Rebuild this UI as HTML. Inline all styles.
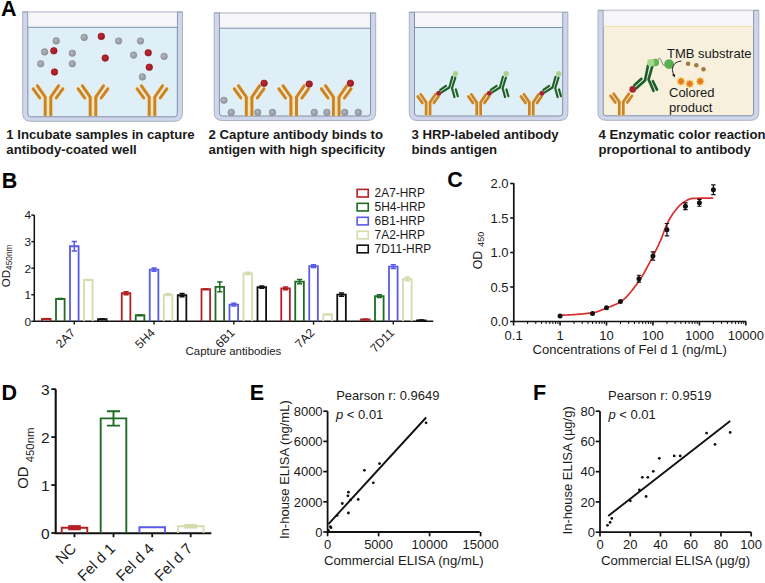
<!DOCTYPE html>
<html><head><meta charset="utf-8"><style>
html,body{margin:0;padding:0;background:#fff;}
svg{display:block;font-family:"Liberation Sans", sans-serif;}
</style></head><body>
<svg width="765" height="583" viewBox="0 0 765 583">
<defs>
<radialGradient id="gg" cx="0.42" cy="0.4" r="0.6"><stop offset="0" stop-color="#b3b7bb"/><stop offset="1" stop-color="#8f949a"/></radialGradient>
<radialGradient id="rg" cx="0.42" cy="0.4" r="0.6"><stop offset="0" stop-color="#c32833"/><stop offset="1" stop-color="#951a24"/></radialGradient>
</defs>
<rect width="765" height="583" fill="#fff"/>
<path d="M22.7,11.8 L22.7,113.3 Q22.7,121.3 30.7,121.3 L174.5,121.3 Q182.5,121.3 182.5,113.3 L182.5,11.8 Z" fill="#cfd6ea" stroke="#9ba3b6" stroke-width="0.8"/>
<path d="M27.9,11.8 L27.9,113.8 Q27.9,116.8 30.9,116.8 L174.3,116.8 Q177.3,116.8 177.3,113.8 L177.3,11.8" fill="#dfeff8" stroke="#8290aa" stroke-width="1"/>
<rect x="28.4" y="11.8" width="148.4" height="15.5" fill="#f6f6f9"/>
<line x1="28.4" y1="12.200000000000001" x2="176.8" y2="12.200000000000001" stroke="#c4c6ce" stroke-width="0.9"/>
<line x1="27.9" y1="27.3" x2="177.3" y2="27.3" stroke="#7d90ac" stroke-width="1"/>
<line x1="22.7" y1="12.100000000000001" x2="27.9" y2="12.100000000000001" stroke="#9aa3bb" stroke-width="0.9"/>
<line x1="177.3" y1="12.100000000000001" x2="182.5" y2="12.100000000000001" stroke="#9aa3bb" stroke-width="0.9"/>
<path d="M214.2,12.8 L214.2,112.5 Q214.2,120.5 222.2,120.5 L367.7,120.5 Q375.7,120.5 375.7,112.5 L375.7,12.8 Z" fill="#cfd6ea" stroke="#9ba3b6" stroke-width="0.8"/>
<path d="M219.39999999999998,12.8 L219.39999999999998,113.0 Q219.39999999999998,116.0 222.39999999999998,116.0 L367.5,116.0 Q370.5,116.0 370.5,113.0 L370.5,12.8" fill="#dfeff8" stroke="#8290aa" stroke-width="1"/>
<rect x="219.89999999999998" y="12.8" width="150.10000000000002" height="15.399999999999999" fill="#f6f6f9"/>
<line x1="219.89999999999998" y1="13.200000000000001" x2="370.0" y2="13.200000000000001" stroke="#c4c6ce" stroke-width="0.9"/>
<line x1="219.39999999999998" y1="28.2" x2="370.5" y2="28.2" stroke="#7d90ac" stroke-width="1"/>
<line x1="214.2" y1="13.100000000000001" x2="219.39999999999998" y2="13.100000000000001" stroke="#9aa3bb" stroke-width="0.9"/>
<line x1="370.5" y1="13.100000000000001" x2="375.7" y2="13.100000000000001" stroke="#9aa3bb" stroke-width="0.9"/>
<path d="M409.3,12.1 L409.3,112.5 Q409.3,120.5 417.3,120.5 L559.9,120.5 Q567.9,120.5 567.9,112.5 L567.9,12.1 Z" fill="#cfd6ea" stroke="#9ba3b6" stroke-width="0.8"/>
<path d="M414.5,12.1 L414.5,113.0 Q414.5,116.0 417.5,116.0 L559.6999999999999,116.0 Q562.6999999999999,116.0 562.6999999999999,113.0 L562.6999999999999,12.1" fill="#dfeff8" stroke="#8290aa" stroke-width="1"/>
<rect x="415.0" y="12.1" width="147.19999999999993" height="15.4" fill="#f6f6f9"/>
<line x1="415.0" y1="12.5" x2="562.1999999999999" y2="12.5" stroke="#c4c6ce" stroke-width="0.9"/>
<line x1="414.5" y1="27.5" x2="562.6999999999999" y2="27.5" stroke="#7d90ac" stroke-width="1"/>
<line x1="409.3" y1="12.4" x2="414.5" y2="12.4" stroke="#9aa3bb" stroke-width="0.9"/>
<line x1="562.6999999999999" y1="12.4" x2="567.9" y2="12.4" stroke="#9aa3bb" stroke-width="0.9"/>
<path d="M598.0,10.2 L598.0,112.3 Q598.0,120.3 606.0,120.3 L750.8,120.3 Q758.8,120.3 758.8,112.3 L758.8,10.2 Z" fill="#cfd6ea" stroke="#9ba3b6" stroke-width="0.8"/>
<path d="M603.2,10.2 L603.2,112.8 Q603.2,115.8 606.2,115.8 L750.5999999999999,115.8 Q753.5999999999999,115.8 753.5999999999999,112.8 L753.5999999999999,10.2" fill="#f7f0dc" stroke="#8290aa" stroke-width="1"/>
<rect x="603.7" y="10.2" width="149.39999999999986" height="16.2" fill="#f6f6f9"/>
<line x1="603.7" y1="10.6" x2="753.0999999999999" y2="10.6" stroke="#c4c6ce" stroke-width="0.9"/>
<line x1="603.2" y1="26.4" x2="753.5999999999999" y2="26.4" stroke="#ece3b0" stroke-width="1"/>
<line x1="598.0" y1="10.5" x2="603.2" y2="10.5" stroke="#9aa3bb" stroke-width="0.9"/>
<line x1="753.5999999999999" y1="10.5" x2="758.8" y2="10.5" stroke="#9aa3bb" stroke-width="0.9"/>
<g transform="translate(48,116.0) scale(1.0)" fill="none" stroke-linejoin="round"><path d="M0,0 V-19.5" stroke="#fbe4b4" stroke-width="9.55" stroke-linecap="butt"/><path d="M-2.8,-19 L-10.6,-30.2" stroke="#fbe4b4" stroke-width="4.15" stroke-linecap="round"/><path d="M2.8,-19 L10.5,-30.2" stroke="#fbe4b4" stroke-width="4.15" stroke-linecap="round"/><path d="M-14.8,-27.2 L-8.2,-18" stroke="#fbe4b4" stroke-width="4.15" stroke-linecap="round"/><path d="M14.8,-27.2 L8.2,-18" stroke="#fbe4b4" stroke-width="4.15" stroke-linecap="round"/><path d="M-2.8,0 V-19" stroke="#c8842a" stroke-width="2.95" stroke-linecap="butt"/><path d="M2.8,0 V-19" stroke="#c8842a" stroke-width="2.95" stroke-linecap="butt"/><path d="M-2.8,-19 L-10.6,-30.2" stroke="#c8842a" stroke-width="2.95" stroke-linecap="round"/><path d="M2.8,-19 L10.5,-30.2" stroke="#c8842a" stroke-width="2.95" stroke-linecap="round"/><path d="M-14.8,-27.2 L-8.2,-18" stroke="#c8842a" stroke-width="2.95" stroke-linecap="round"/><path d="M14.8,-27.2 L8.2,-18" stroke="#c8842a" stroke-width="2.95" stroke-linecap="round"/></g>
<g transform="translate(93,116.0) scale(1.0)" fill="none" stroke-linejoin="round"><path d="M0,0 V-19.5" stroke="#fbe4b4" stroke-width="9.55" stroke-linecap="butt"/><path d="M-2.8,-19 L-10.6,-30.2" stroke="#fbe4b4" stroke-width="4.15" stroke-linecap="round"/><path d="M2.8,-19 L10.5,-30.2" stroke="#fbe4b4" stroke-width="4.15" stroke-linecap="round"/><path d="M-14.8,-27.2 L-8.2,-18" stroke="#fbe4b4" stroke-width="4.15" stroke-linecap="round"/><path d="M14.8,-27.2 L8.2,-18" stroke="#fbe4b4" stroke-width="4.15" stroke-linecap="round"/><path d="M-2.8,0 V-19" stroke="#c8842a" stroke-width="2.95" stroke-linecap="butt"/><path d="M2.8,0 V-19" stroke="#c8842a" stroke-width="2.95" stroke-linecap="butt"/><path d="M-2.8,-19 L-10.6,-30.2" stroke="#c8842a" stroke-width="2.95" stroke-linecap="round"/><path d="M2.8,-19 L10.5,-30.2" stroke="#c8842a" stroke-width="2.95" stroke-linecap="round"/><path d="M-14.8,-27.2 L-8.2,-18" stroke="#c8842a" stroke-width="2.95" stroke-linecap="round"/><path d="M14.8,-27.2 L8.2,-18" stroke="#c8842a" stroke-width="2.95" stroke-linecap="round"/></g>
<g transform="translate(152,116.0) scale(1.0)" fill="none" stroke-linejoin="round"><path d="M0,0 V-19.5" stroke="#fbe4b4" stroke-width="9.55" stroke-linecap="butt"/><path d="M-2.8,-19 L-10.6,-30.2" stroke="#fbe4b4" stroke-width="4.15" stroke-linecap="round"/><path d="M2.8,-19 L10.5,-30.2" stroke="#fbe4b4" stroke-width="4.15" stroke-linecap="round"/><path d="M-14.8,-27.2 L-8.2,-18" stroke="#fbe4b4" stroke-width="4.15" stroke-linecap="round"/><path d="M14.8,-27.2 L8.2,-18" stroke="#fbe4b4" stroke-width="4.15" stroke-linecap="round"/><path d="M-2.8,0 V-19" stroke="#c8842a" stroke-width="2.95" stroke-linecap="butt"/><path d="M2.8,0 V-19" stroke="#c8842a" stroke-width="2.95" stroke-linecap="butt"/><path d="M-2.8,-19 L-10.6,-30.2" stroke="#c8842a" stroke-width="2.95" stroke-linecap="round"/><path d="M2.8,-19 L10.5,-30.2" stroke="#c8842a" stroke-width="2.95" stroke-linecap="round"/><path d="M-14.8,-27.2 L-8.2,-18" stroke="#c8842a" stroke-width="2.95" stroke-linecap="round"/><path d="M14.8,-27.2 L8.2,-18" stroke="#c8842a" stroke-width="2.95" stroke-linecap="round"/></g>
<circle cx="56.2" cy="40.9" r="3.3" fill="url(#gg)" stroke="#868b92" stroke-width="0.6"/>
<circle cx="44.6" cy="51.9" r="3.3" fill="url(#gg)" stroke="#868b92" stroke-width="0.6"/>
<circle cx="72.3" cy="53.2" r="3.3" fill="url(#gg)" stroke="#868b92" stroke-width="0.6"/>
<circle cx="40.7" cy="63.8" r="3.3" fill="url(#gg)" stroke="#868b92" stroke-width="0.6"/>
<circle cx="72.3" cy="63.8" r="3.3" fill="url(#gg)" stroke="#868b92" stroke-width="0.6"/>
<circle cx="84.2" cy="37.4" r="3.3" fill="url(#gg)" stroke="#868b92" stroke-width="0.6"/>
<circle cx="118.6" cy="41" r="3.3" fill="url(#gg)" stroke="#868b92" stroke-width="0.6"/>
<circle cx="140.5" cy="41" r="3.3" fill="url(#gg)" stroke="#868b92" stroke-width="0.6"/>
<circle cx="133.6" cy="55.1" r="3.3" fill="url(#gg)" stroke="#868b92" stroke-width="0.6"/>
<circle cx="164.1" cy="56.4" r="3.3" fill="url(#gg)" stroke="#868b92" stroke-width="0.6"/>
<circle cx="142.4" cy="76.9" r="3.3" fill="url(#gg)" stroke="#868b92" stroke-width="0.6"/>
<circle cx="53.8" cy="50.8" r="3.8" fill="#f2dada"/>
<circle cx="53.8" cy="50.8" r="3.3" fill="url(#rg)" stroke="#86181f" stroke-width="0.6"/>
<circle cx="54.5" cy="72" r="3.8" fill="#f2dada"/>
<circle cx="54.5" cy="72" r="3.3" fill="url(#rg)" stroke="#86181f" stroke-width="0.6"/>
<circle cx="101.3" cy="36.4" r="3.8" fill="#f2dada"/>
<circle cx="101.3" cy="36.4" r="3.3" fill="url(#rg)" stroke="#86181f" stroke-width="0.6"/>
<circle cx="105.2" cy="58.1" r="3.8" fill="#f2dada"/>
<circle cx="105.2" cy="58.1" r="3.3" fill="url(#rg)" stroke="#86181f" stroke-width="0.6"/>
<circle cx="148.2" cy="52.8" r="3.8" fill="#f2dada"/>
<circle cx="148.2" cy="52.8" r="3.3" fill="url(#rg)" stroke="#86181f" stroke-width="0.6"/>
<circle cx="149.3" cy="67.2" r="3.8" fill="#f2dada"/>
<circle cx="149.3" cy="67.2" r="3.3" fill="url(#rg)" stroke="#86181f" stroke-width="0.6"/>
<g transform="translate(249.1,116.0) scale(1.0)" fill="none" stroke-linejoin="round"><path d="M0,0 V-19.5" stroke="#fbe4b4" stroke-width="9.55" stroke-linecap="butt"/><path d="M-2.8,-19 L-10.6,-30.2" stroke="#fbe4b4" stroke-width="4.15" stroke-linecap="round"/><path d="M2.8,-19 L10.5,-30.2" stroke="#fbe4b4" stroke-width="4.15" stroke-linecap="round"/><path d="M-14.8,-27.2 L-8.2,-18" stroke="#fbe4b4" stroke-width="4.15" stroke-linecap="round"/><path d="M14.8,-27.2 L8.2,-18" stroke="#fbe4b4" stroke-width="4.15" stroke-linecap="round"/><path d="M-2.8,0 V-19" stroke="#c8842a" stroke-width="2.95" stroke-linecap="butt"/><path d="M2.8,0 V-19" stroke="#c8842a" stroke-width="2.95" stroke-linecap="butt"/><path d="M-2.8,-19 L-10.6,-30.2" stroke="#c8842a" stroke-width="2.95" stroke-linecap="round"/><path d="M2.8,-19 L10.5,-30.2" stroke="#c8842a" stroke-width="2.95" stroke-linecap="round"/><path d="M-14.8,-27.2 L-8.2,-18" stroke="#c8842a" stroke-width="2.95" stroke-linecap="round"/><path d="M14.8,-27.2 L8.2,-18" stroke="#c8842a" stroke-width="2.95" stroke-linecap="round"/></g>
<g transform="translate(293.7,116.0) scale(1.0)" fill="none" stroke-linejoin="round"><path d="M0,0 V-19.5" stroke="#fbe4b4" stroke-width="9.55" stroke-linecap="butt"/><path d="M-2.8,-19 L-10.6,-30.2" stroke="#fbe4b4" stroke-width="4.15" stroke-linecap="round"/><path d="M2.8,-19 L10.5,-30.2" stroke="#fbe4b4" stroke-width="4.15" stroke-linecap="round"/><path d="M-14.8,-27.2 L-8.2,-18" stroke="#fbe4b4" stroke-width="4.15" stroke-linecap="round"/><path d="M14.8,-27.2 L8.2,-18" stroke="#fbe4b4" stroke-width="4.15" stroke-linecap="round"/><path d="M-2.8,0 V-19" stroke="#c8842a" stroke-width="2.95" stroke-linecap="butt"/><path d="M2.8,0 V-19" stroke="#c8842a" stroke-width="2.95" stroke-linecap="butt"/><path d="M-2.8,-19 L-10.6,-30.2" stroke="#c8842a" stroke-width="2.95" stroke-linecap="round"/><path d="M2.8,-19 L10.5,-30.2" stroke="#c8842a" stroke-width="2.95" stroke-linecap="round"/><path d="M-14.8,-27.2 L-8.2,-18" stroke="#c8842a" stroke-width="2.95" stroke-linecap="round"/><path d="M14.8,-27.2 L8.2,-18" stroke="#c8842a" stroke-width="2.95" stroke-linecap="round"/></g>
<g transform="translate(336.2,116.0) scale(1.0)" fill="none" stroke-linejoin="round"><path d="M0,0 V-19.5" stroke="#fbe4b4" stroke-width="9.55" stroke-linecap="butt"/><path d="M-2.8,-19 L-10.6,-30.2" stroke="#fbe4b4" stroke-width="4.15" stroke-linecap="round"/><path d="M2.8,-19 L10.5,-30.2" stroke="#fbe4b4" stroke-width="4.15" stroke-linecap="round"/><path d="M-14.8,-27.2 L-8.2,-18" stroke="#fbe4b4" stroke-width="4.15" stroke-linecap="round"/><path d="M14.8,-27.2 L8.2,-18" stroke="#fbe4b4" stroke-width="4.15" stroke-linecap="round"/><path d="M-2.8,0 V-19" stroke="#c8842a" stroke-width="2.95" stroke-linecap="butt"/><path d="M2.8,0 V-19" stroke="#c8842a" stroke-width="2.95" stroke-linecap="butt"/><path d="M-2.8,-19 L-10.6,-30.2" stroke="#c8842a" stroke-width="2.95" stroke-linecap="round"/><path d="M2.8,-19 L10.5,-30.2" stroke="#c8842a" stroke-width="2.95" stroke-linecap="round"/><path d="M-14.8,-27.2 L-8.2,-18" stroke="#c8842a" stroke-width="2.95" stroke-linecap="round"/><path d="M14.8,-27.2 L8.2,-18" stroke="#c8842a" stroke-width="2.95" stroke-linecap="round"/></g>
<circle cx="223.9" cy="100.3" r="3.3" fill="url(#gg)" stroke="#868b92" stroke-width="0.6"/>
<circle cx="231.2" cy="112.4" r="3.3" fill="url(#gg)" stroke="#868b92" stroke-width="0.6"/>
<circle cx="257.7" cy="112.4" r="3.3" fill="url(#gg)" stroke="#868b92" stroke-width="0.6"/>
<circle cx="272.5" cy="112.4" r="3.3" fill="url(#gg)" stroke="#868b92" stroke-width="0.6"/>
<circle cx="314.3" cy="112.4" r="3.3" fill="url(#gg)" stroke="#868b92" stroke-width="0.6"/>
<circle cx="326.9" cy="112.4" r="3.3" fill="url(#gg)" stroke="#868b92" stroke-width="0.6"/>
<circle cx="344.7" cy="112.4" r="3.3" fill="url(#gg)" stroke="#868b92" stroke-width="0.6"/>
<circle cx="358.3" cy="112.4" r="3.3" fill="url(#gg)" stroke="#868b92" stroke-width="0.6"/>
<circle cx="264.1" cy="83.3" r="3.8" fill="#f2dada"/>
<circle cx="264.1" cy="83.3" r="3.3" fill="url(#rg)" stroke="#86181f" stroke-width="0.6"/>
<circle cx="309.2" cy="84.1" r="3.8" fill="#f2dada"/>
<circle cx="309.2" cy="84.1" r="3.3" fill="url(#rg)" stroke="#86181f" stroke-width="0.6"/>
<circle cx="350.4" cy="83.3" r="3.8" fill="#f2dada"/>
<circle cx="350.4" cy="83.3" r="3.3" fill="url(#rg)" stroke="#86181f" stroke-width="0.6"/>
<g transform="translate(428.1,115.5) scale(0.7)" fill="none" stroke-linejoin="round"><path d="M0,0 V-19.5" stroke="#fbe4b4" stroke-width="10.399999999999999" stroke-linecap="butt"/><path d="M-2.8,-19 L-10.6,-30.2" stroke="#fbe4b4" stroke-width="5.0" stroke-linecap="round"/><path d="M2.8,-19 L10.5,-30.2" stroke="#fbe4b4" stroke-width="5.0" stroke-linecap="round"/><path d="M-14.8,-27.2 L-8.2,-18" stroke="#fbe4b4" stroke-width="5.0" stroke-linecap="round"/><path d="M14.8,-27.2 L8.2,-18" stroke="#fbe4b4" stroke-width="5.0" stroke-linecap="round"/><path d="M-2.8,0 V-19" stroke="#c8842a" stroke-width="3.8" stroke-linecap="butt"/><path d="M2.8,0 V-19" stroke="#c8842a" stroke-width="3.8" stroke-linecap="butt"/><path d="M-2.8,-19 L-10.6,-30.2" stroke="#c8842a" stroke-width="3.8" stroke-linecap="round"/><path d="M2.8,-19 L10.5,-30.2" stroke="#c8842a" stroke-width="3.8" stroke-linecap="round"/><path d="M-14.8,-27.2 L-8.2,-18" stroke="#c8842a" stroke-width="3.8" stroke-linecap="round"/><path d="M14.8,-27.2 L8.2,-18" stroke="#c8842a" stroke-width="3.8" stroke-linecap="round"/></g>
<g transform="translate(428.1,115.5)" fill="none" stroke-linecap="round" stroke-linejoin="round"><path d="M13.5,-23.1 L21.2,-28 L24.2,-38.7" stroke="#d8ecd8" stroke-width="3.0"/><path d="M12.1,-25.6 L17.9,-29.7" stroke="#d8ecd8" stroke-width="3.0"/><path d="M27.2,-37.9 L23.9,-27.2 L26.4,-18.4" stroke="#d8ecd8" stroke-width="3.0"/><path d="M27.7,-26.1 L29.7,-19.3" stroke="#d8ecd8" stroke-width="3.0"/><path d="M13.5,-23.1 L21.2,-28 L24.2,-38.7" stroke="#1f5e2a" stroke-width="2.1"/><path d="M12.1,-25.6 L17.9,-29.7" stroke="#1f5e2a" stroke-width="2.1"/><path d="M27.2,-37.9 L23.9,-27.2 L26.4,-18.4" stroke="#1f5e2a" stroke-width="2.1"/><path d="M27.7,-26.1 L29.7,-19.3" stroke="#1f5e2a" stroke-width="2.1"/><circle cx="10.6" cy="-22.2" r="2.5" fill="#a32530"/><circle cx="27.4" cy="-41.8" r="2.6" fill="#a3d08a" stroke="#c0e0b0" stroke-width="0.5"/></g>
<g transform="translate(478.7,115.5) scale(0.7)" fill="none" stroke-linejoin="round"><path d="M0,0 V-19.5" stroke="#fbe4b4" stroke-width="10.399999999999999" stroke-linecap="butt"/><path d="M-2.8,-19 L-10.6,-30.2" stroke="#fbe4b4" stroke-width="5.0" stroke-linecap="round"/><path d="M2.8,-19 L10.5,-30.2" stroke="#fbe4b4" stroke-width="5.0" stroke-linecap="round"/><path d="M-14.8,-27.2 L-8.2,-18" stroke="#fbe4b4" stroke-width="5.0" stroke-linecap="round"/><path d="M14.8,-27.2 L8.2,-18" stroke="#fbe4b4" stroke-width="5.0" stroke-linecap="round"/><path d="M-2.8,0 V-19" stroke="#c8842a" stroke-width="3.8" stroke-linecap="butt"/><path d="M2.8,0 V-19" stroke="#c8842a" stroke-width="3.8" stroke-linecap="butt"/><path d="M-2.8,-19 L-10.6,-30.2" stroke="#c8842a" stroke-width="3.8" stroke-linecap="round"/><path d="M2.8,-19 L10.5,-30.2" stroke="#c8842a" stroke-width="3.8" stroke-linecap="round"/><path d="M-14.8,-27.2 L-8.2,-18" stroke="#c8842a" stroke-width="3.8" stroke-linecap="round"/><path d="M14.8,-27.2 L8.2,-18" stroke="#c8842a" stroke-width="3.8" stroke-linecap="round"/></g>
<g transform="translate(478.7,115.5)" fill="none" stroke-linecap="round" stroke-linejoin="round"><path d="M13.5,-23.1 L21.2,-28 L24.2,-38.7" stroke="#d8ecd8" stroke-width="3.0"/><path d="M12.1,-25.6 L17.9,-29.7" stroke="#d8ecd8" stroke-width="3.0"/><path d="M27.2,-37.9 L23.9,-27.2 L26.4,-18.4" stroke="#d8ecd8" stroke-width="3.0"/><path d="M27.7,-26.1 L29.7,-19.3" stroke="#d8ecd8" stroke-width="3.0"/><path d="M13.5,-23.1 L21.2,-28 L24.2,-38.7" stroke="#1f5e2a" stroke-width="2.1"/><path d="M12.1,-25.6 L17.9,-29.7" stroke="#1f5e2a" stroke-width="2.1"/><path d="M27.2,-37.9 L23.9,-27.2 L26.4,-18.4" stroke="#1f5e2a" stroke-width="2.1"/><path d="M27.7,-26.1 L29.7,-19.3" stroke="#1f5e2a" stroke-width="2.1"/><circle cx="10.6" cy="-22.2" r="2.5" fill="#a32530"/><circle cx="27.4" cy="-41.8" r="2.6" fill="#a3d08a" stroke="#c0e0b0" stroke-width="0.5"/></g>
<g transform="translate(531.3,115.5) scale(0.7)" fill="none" stroke-linejoin="round"><path d="M0,0 V-19.5" stroke="#fbe4b4" stroke-width="10.399999999999999" stroke-linecap="butt"/><path d="M-2.8,-19 L-10.6,-30.2" stroke="#fbe4b4" stroke-width="5.0" stroke-linecap="round"/><path d="M2.8,-19 L10.5,-30.2" stroke="#fbe4b4" stroke-width="5.0" stroke-linecap="round"/><path d="M-14.8,-27.2 L-8.2,-18" stroke="#fbe4b4" stroke-width="5.0" stroke-linecap="round"/><path d="M14.8,-27.2 L8.2,-18" stroke="#fbe4b4" stroke-width="5.0" stroke-linecap="round"/><path d="M-2.8,0 V-19" stroke="#c8842a" stroke-width="3.8" stroke-linecap="butt"/><path d="M2.8,0 V-19" stroke="#c8842a" stroke-width="3.8" stroke-linecap="butt"/><path d="M-2.8,-19 L-10.6,-30.2" stroke="#c8842a" stroke-width="3.8" stroke-linecap="round"/><path d="M2.8,-19 L10.5,-30.2" stroke="#c8842a" stroke-width="3.8" stroke-linecap="round"/><path d="M-14.8,-27.2 L-8.2,-18" stroke="#c8842a" stroke-width="3.8" stroke-linecap="round"/><path d="M14.8,-27.2 L8.2,-18" stroke="#c8842a" stroke-width="3.8" stroke-linecap="round"/></g>
<g transform="translate(531.3,115.5)" fill="none" stroke-linecap="round" stroke-linejoin="round"><path d="M13.5,-23.1 L21.2,-28 L24.2,-38.7" stroke="#d8ecd8" stroke-width="3.0"/><path d="M12.1,-25.6 L17.9,-29.7" stroke="#d8ecd8" stroke-width="3.0"/><path d="M27.2,-37.9 L23.9,-27.2 L26.4,-18.4" stroke="#d8ecd8" stroke-width="3.0"/><path d="M27.7,-26.1 L29.7,-19.3" stroke="#d8ecd8" stroke-width="3.0"/><path d="M13.5,-23.1 L21.2,-28 L24.2,-38.7" stroke="#1f5e2a" stroke-width="2.1"/><path d="M12.1,-25.6 L17.9,-29.7" stroke="#1f5e2a" stroke-width="2.1"/><path d="M27.2,-37.9 L23.9,-27.2 L26.4,-18.4" stroke="#1f5e2a" stroke-width="2.1"/><path d="M27.7,-26.1 L29.7,-19.3" stroke="#1f5e2a" stroke-width="2.1"/><circle cx="10.6" cy="-22.2" r="2.5" fill="#a32530"/><circle cx="27.4" cy="-41.8" r="2.6" fill="#a3d08a" stroke="#c0e0b0" stroke-width="0.5"/></g>
<g transform="translate(621.3,115.5) scale(0.72)" fill="none" stroke-linejoin="round"><path d="M0,0 V-19.5" stroke="#fbe4b4" stroke-width="10.3" stroke-linecap="butt"/><path d="M-2.8,-19 L-10.6,-30.2" stroke="#fbe4b4" stroke-width="4.9" stroke-linecap="round"/><path d="M2.8,-19 L10.5,-30.2" stroke="#fbe4b4" stroke-width="4.9" stroke-linecap="round"/><path d="M-14.8,-27.2 L-8.2,-18" stroke="#fbe4b4" stroke-width="4.9" stroke-linecap="round"/><path d="M14.8,-27.2 L8.2,-18" stroke="#fbe4b4" stroke-width="4.9" stroke-linecap="round"/><path d="M-2.8,0 V-19" stroke="#c8842a" stroke-width="3.7" stroke-linecap="butt"/><path d="M2.8,0 V-19" stroke="#c8842a" stroke-width="3.7" stroke-linecap="butt"/><path d="M-2.8,-19 L-10.6,-30.2" stroke="#c8842a" stroke-width="3.7" stroke-linecap="round"/><path d="M2.8,-19 L10.5,-30.2" stroke="#c8842a" stroke-width="3.7" stroke-linecap="round"/><path d="M-14.8,-27.2 L-8.2,-18" stroke="#c8842a" stroke-width="3.7" stroke-linecap="round"/><path d="M14.8,-27.2 L8.2,-18" stroke="#c8842a" stroke-width="3.7" stroke-linecap="round"/></g>
<g fill="none" stroke-linecap="round" stroke-linejoin="round">
<path d="M634.2,85.4 L641.4,78.8" stroke="#e0eed8" stroke-width="3.5"/>
<path d="M636,88.4 L645,80.6 L648,65.6" stroke="#e0eed8" stroke-width="3.5"/>
<path d="M652.3,66.2 L648.6,79.4 L653.5,90.8" stroke="#e0eed8" stroke-width="3.5"/>
<path d="M652.9,81.2 L657,89.6" stroke="#e0eed8" stroke-width="3.5"/>
<path d="M634.2,85.4 L641.4,78.8" stroke="#1f5e2a" stroke-width="2.6"/>
<path d="M636,88.4 L645,80.6 L648,65.6" stroke="#1f5e2a" stroke-width="2.6"/>
<path d="M652.3,66.2 L648.6,79.4 L653.5,90.8" stroke="#1f5e2a" stroke-width="2.6"/>
<path d="M652.9,81.2 L657,89.6" stroke="#1f5e2a" stroke-width="2.6"/>
</g>
<circle cx="632.7" cy="89.4" r="3.3" fill="#a8232e"/>
<circle cx="655.4" cy="62.5" r="3.7" fill="#62b552"/>
<circle cx="650.8" cy="62.8" r="3.7" fill="#a6d68e"/>
<path d="M658,58.9 Q660.6,57.5 661.5,61 Q662.5,65.7 664.8,65.7" fill="none" stroke="#555" stroke-width="0.7"/>
<circle cx="669.1" cy="64.1" r="4.9" fill="#58b04e"/>
<path d="M681.5,61.0 Q672.8,61.8 672.3,69.5 L673.6,75" fill="none" stroke="#2a2a2a" stroke-width="1.0"/>
<path d="M671.8,74.8 L675.2,74.2 L674.8,77.6 Z" fill="#222"/>
<circle cx="688.1" cy="63.7" r="2.3" fill="#a8793a"/>
<circle cx="696.3" cy="65.3" r="2.3" fill="#a8793a"/>
<circle cx="703.5" cy="69.3" r="2.3" fill="#a8793a"/>
<polygon points="681.00,77.30 682.07,78.81 683.90,78.50 683.59,80.33 685.10,81.40 683.59,82.47 683.90,84.30 682.07,83.99 681.00,85.50 679.93,83.99 678.10,84.30 678.41,82.47 676.90,81.40 678.41,80.33 678.10,78.50 679.93,78.81" fill="#e67824" stroke="#f4c23c" stroke-width="0.8"/>
<polygon points="689.70,79.70 690.77,81.21 692.60,80.90 692.29,82.73 693.80,83.80 692.29,84.87 692.60,86.70 690.77,86.39 689.70,87.90 688.63,86.39 686.80,86.70 687.11,84.87 685.60,83.80 687.11,82.73 686.80,80.90 688.63,81.21" fill="#e67824" stroke="#f4c23c" stroke-width="0.8"/>
<polygon points="700.20,77.30 701.27,78.81 703.10,78.50 702.79,80.33 704.30,81.40 702.79,82.47 703.10,84.30 701.27,83.99 700.20,85.50 699.13,83.99 697.30,84.30 697.61,82.47 696.10,81.40 697.61,80.33 697.30,78.50 699.13,78.81" fill="#e67824" stroke="#f4c23c" stroke-width="0.8"/>
<text x="667.00" y="57.70" font-size="13" text-anchor="start" fill="#1a1a1a" >TMB substrate</text>
<text x="669.00" y="96.50" font-size="13" text-anchor="start" fill="#1a1a1a" >Colored</text>
<text x="669.00" y="111.50" font-size="13" text-anchor="start" fill="#1a1a1a" >product</text>
<text x="6.30" y="138.90" font-size="13.2" text-anchor="start" font-weight="bold" fill="#1a1a1a" >1 Incubate samples in capture</text>
<text x="6.30" y="154.10" font-size="13.2" text-anchor="start" font-weight="bold" fill="#1a1a1a" >antibody-coated well</text>
<text x="208.60" y="138.90" font-size="13.2" text-anchor="start" font-weight="bold" fill="#1a1a1a" >2 Capture antibody binds to</text>
<text x="208.60" y="154.10" font-size="13.2" text-anchor="start" font-weight="bold" fill="#1a1a1a" >antigen with high specificity</text>
<text x="411.40" y="138.90" font-size="13.2" text-anchor="start" font-weight="bold" fill="#1a1a1a" >3 HRP-labeled antibody</text>
<text x="411.40" y="154.10" font-size="13.2" text-anchor="start" font-weight="bold" fill="#1a1a1a" >binds antigen</text>
<text x="598.40" y="138.90" font-size="13.2" text-anchor="start" font-weight="bold" fill="#1a1a1a" >4 Enzymatic color reaction</text>
<text x="598.40" y="154.10" font-size="13.2" text-anchor="start" font-weight="bold" fill="#1a1a1a" >proportional to antibody</text>
<text x="1.00" y="15.80" font-size="21.5" text-anchor="start" font-weight="bold" fill="#000" >A</text>
<text x="1.80" y="187.60" font-size="21.5" text-anchor="start" font-weight="bold" fill="#000" >B</text>
<text x="447.20" y="187.00" font-size="21.5" text-anchor="start" font-weight="bold" fill="#000" >C</text>
<text x="1.60" y="400.30" font-size="21.5" text-anchor="start" font-weight="bold" fill="#000" >D</text>
<text x="249.80" y="399.90" font-size="21.5" text-anchor="start" font-weight="bold" fill="#000" >E</text>
<text x="533.00" y="400.10" font-size="21.5" text-anchor="start" font-weight="bold" fill="#000" >F</text>
<path d="M34.3,215 V321.3 H433.3" fill="none" stroke="#111" stroke-width="1.5"/>
<line x1="31.3" y1="321.3" x2="34.3" y2="321.3" stroke="#111" stroke-width="1.4"/>
<text x="31.00" y="325.60" font-size="11.8" text-anchor="end" fill="#1a1a1a" >0</text>
<line x1="31.3" y1="294.75" x2="34.3" y2="294.75" stroke="#111" stroke-width="1.4"/>
<text x="31.00" y="299.05" font-size="11.8" text-anchor="end" fill="#1a1a1a" >1</text>
<line x1="31.3" y1="268.2" x2="34.3" y2="268.2" stroke="#111" stroke-width="1.4"/>
<text x="31.00" y="272.50" font-size="11.8" text-anchor="end" fill="#1a1a1a" >2</text>
<line x1="31.3" y1="241.65" x2="34.3" y2="241.65" stroke="#111" stroke-width="1.4"/>
<text x="31.00" y="245.95" font-size="11.8" text-anchor="end" fill="#1a1a1a" >3</text>
<line x1="31.3" y1="215.10000000000002" x2="34.3" y2="215.10000000000002" stroke="#111" stroke-width="1.4"/>
<text x="31.00" y="219.40" font-size="11.8" text-anchor="end" fill="#1a1a1a" >4</text>
<line x1="74.3" y1="321.3" x2="74.3" y2="324.6" stroke="#111" stroke-width="1.4"/>
<path d="M42.0,321.3 V318.97950000000003 H50.599999999999994 V321.3" fill="none" stroke="#b21f24" stroke-width="1.8"/>
<rect x="43.599999999999994" y="317.8795" width="5.4" height="2.2" fill="#b21f24"/>
<path d="M56.0,321.3 V298.80150000000003 H64.6 V321.3" fill="none" stroke="#1e6b24" stroke-width="1.8"/>
<rect x="57.599999999999994" y="297.7015" width="5.4" height="2.2" fill="#1e6b24"/>
<path d="M70.0,321.3 V246.2325 H78.6 V321.3" fill="none" stroke="#5a5ae6" stroke-width="1.8"/>
<path d="M74.3,241.4535 V251.01149999999998 M71.7,241.4535 H76.89999999999999 M71.7,251.01149999999998 H76.89999999999999" stroke="#5a5ae6" stroke-width="1.5" fill="none"/>
<path d="M84.0,321.3 V279.951 H92.6 V321.3" fill="none" stroke="#d6dbae" stroke-width="1.8"/>
<rect x="85.6" y="278.851" width="5.4" height="2.2" fill="#d6dbae"/>
<path d="M98.0,321.3 V319.24500000000006 H106.6 V321.3" fill="none" stroke="#111111" stroke-width="1.8"/>
<rect x="99.6" y="318.14500000000004" width="5.4" height="2.2" fill="#111111"/>
<text x="75.90" y="333.60" font-size="12" text-anchor="end" fill="#1a1a1a" transform="rotate(-45 75.89999999999999 333.6)">2A7</text>
<line x1="154.05" y1="321.3" x2="154.05" y2="324.6" stroke="#111" stroke-width="1.4"/>
<path d="M121.75000000000001,321.3 V293.22600000000006 H130.35000000000002 V321.3" fill="none" stroke="#b21f24" stroke-width="1.8"/>
<path d="M126.05000000000001,291.63300000000004 V294.8190000000001 M123.45000000000002,291.63300000000004 H128.65 M123.45000000000002,294.8190000000001 H128.65" stroke="#b21f24" stroke-width="1.5" fill="none"/>
<path d="M135.75,321.3 V315.26250000000005 H144.35000000000002 V321.3" fill="none" stroke="#1e6b24" stroke-width="1.8"/>
<rect x="137.35000000000002" y="314.1625" width="5.4" height="2.2" fill="#1e6b24"/>
<path d="M149.75,321.3 V269.59650000000005 H158.35000000000002 V321.3" fill="none" stroke="#5a5ae6" stroke-width="1.8"/>
<path d="M154.05,268.00350000000003 V271.18950000000007 M151.45000000000002,268.00350000000003 H156.65 M151.45000000000002,271.18950000000007 H156.65" stroke="#5a5ae6" stroke-width="1.5" fill="none"/>
<path d="M163.75,321.3 V294.55350000000004 H172.35000000000002 V321.3" fill="none" stroke="#d6dbae" stroke-width="1.8"/>
<path d="M168.05,293.49150000000003 V295.61550000000005 M165.45000000000002,293.49150000000003 H170.65 M165.45000000000002,295.61550000000005 H170.65" stroke="#d6dbae" stroke-width="1.5" fill="none"/>
<path d="M177.75,321.3 V295.08450000000005 H186.35000000000002 V321.3" fill="none" stroke="#111111" stroke-width="1.8"/>
<path d="M182.05,293.49150000000003 V296.67750000000007 M179.45000000000002,293.49150000000003 H184.65 M179.45000000000002,296.67750000000007 H184.65" stroke="#111111" stroke-width="1.5" fill="none"/>
<text x="155.65" y="333.60" font-size="12" text-anchor="end" fill="#1a1a1a" transform="rotate(-45 155.65 333.6)">5H4</text>
<line x1="233.8" y1="321.3" x2="233.8" y2="324.6" stroke="#111" stroke-width="1.4"/>
<path d="M201.5,321.3 V289.24350000000004 H210.10000000000002 V321.3" fill="none" stroke="#b21f24" stroke-width="1.8"/>
<rect x="203.10000000000002" y="288.1435" width="5.4" height="2.2" fill="#b21f24"/>
<path d="M215.5,321.3 V286.85400000000004 H224.10000000000002 V321.3" fill="none" stroke="#1e6b24" stroke-width="1.8"/>
<path d="M219.8,282.07500000000005 V291.63300000000004 M217.20000000000002,282.07500000000005 H222.4 M217.20000000000002,291.63300000000004 H222.4" stroke="#1e6b24" stroke-width="1.5" fill="none"/>
<path d="M229.5,321.3 V304.64250000000004 H238.10000000000002 V321.3" fill="none" stroke="#5a5ae6" stroke-width="1.8"/>
<path d="M233.8,303.31500000000005 V305.97 M231.20000000000002,303.31500000000005 H236.4 M231.20000000000002,305.97 H236.4" stroke="#5a5ae6" stroke-width="1.5" fill="none"/>
<path d="M243.5,321.3 V273.31350000000003 H252.10000000000002 V321.3" fill="none" stroke="#d6dbae" stroke-width="1.8"/>
<path d="M247.8,272.2515 V274.37550000000005 M245.20000000000002,272.2515 H250.4 M245.20000000000002,274.37550000000005 H250.4" stroke="#d6dbae" stroke-width="1.5" fill="none"/>
<path d="M257.5,321.3 V287.1195 H266.1 V321.3" fill="none" stroke="#111111" stroke-width="1.8"/>
<path d="M261.8,286.0575 V288.1815 M259.2,286.0575 H264.40000000000003 M259.2,288.1815 H264.40000000000003" stroke="#111111" stroke-width="1.5" fill="none"/>
<text x="235.40" y="333.60" font-size="12" text-anchor="end" fill="#1a1a1a" transform="rotate(-45 235.4 333.6)">6B1</text>
<line x1="313.55" y1="321.3" x2="313.55" y2="324.6" stroke="#111" stroke-width="1.4"/>
<path d="M281.25,321.3 V288.447 H289.85 V321.3" fill="none" stroke="#b21f24" stroke-width="1.8"/>
<path d="M285.55,287.1195 V289.7745 M282.95,287.1195 H288.15000000000003 M282.95,289.7745 H288.15000000000003" stroke="#b21f24" stroke-width="1.5" fill="none"/>
<path d="M295.25,321.3 V281.54400000000004 H303.85 V321.3" fill="none" stroke="#1e6b24" stroke-width="1.8"/>
<path d="M299.55,279.42 V283.66800000000006 M296.95,279.42 H302.15000000000003 M296.95,283.66800000000006 H302.15000000000003" stroke="#1e6b24" stroke-width="1.5" fill="none"/>
<path d="M309.25,321.3 V266.14500000000004 H317.85 V321.3" fill="none" stroke="#5a5ae6" stroke-width="1.8"/>
<path d="M313.55,264.81750000000005 V267.4725 M310.95,264.81750000000005 H316.15000000000003 M310.95,267.4725 H316.15000000000003" stroke="#5a5ae6" stroke-width="1.5" fill="none"/>
<path d="M323.25,321.3 V314.466 H331.85 V321.3" fill="none" stroke="#d6dbae" stroke-width="1.8"/>
<rect x="324.85" y="313.366" width="5.4" height="2.2" fill="#d6dbae"/>
<path d="M337.25,321.3 V294.55350000000004 H345.85 V321.3" fill="none" stroke="#111111" stroke-width="1.8"/>
<path d="M341.55,292.9605 V296.14650000000006 M338.95,292.9605 H344.15000000000003 M338.95,296.14650000000006 H344.15000000000003" stroke="#111111" stroke-width="1.5" fill="none"/>
<text x="315.15" y="333.60" font-size="12" text-anchor="end" fill="#1a1a1a" transform="rotate(-45 315.15000000000003 333.6)">7A2</text>
<line x1="393.3" y1="321.3" x2="393.3" y2="324.6" stroke="#111" stroke-width="1.4"/>
<path d="M361.0,321.3 V319.51050000000004 H369.6 V321.3" fill="none" stroke="#b21f24" stroke-width="1.8"/>
<rect x="362.6" y="318.4105" width="5.4" height="2.2" fill="#b21f24"/>
<path d="M375.0,321.3 V296.14650000000006 H383.6 V321.3" fill="none" stroke="#1e6b24" stroke-width="1.8"/>
<path d="M379.3,294.8190000000001 V297.47400000000005 M376.7,294.8190000000001 H381.90000000000003 M376.7,297.47400000000005 H381.90000000000003" stroke="#1e6b24" stroke-width="1.5" fill="none"/>
<path d="M389.0,321.3 V266.67600000000004 H397.6 V321.3" fill="none" stroke="#5a5ae6" stroke-width="1.8"/>
<path d="M393.3,264.81750000000005 V268.53450000000004 M390.7,264.81750000000005 H395.90000000000003 M390.7,268.53450000000004 H395.90000000000003" stroke="#5a5ae6" stroke-width="1.5" fill="none"/>
<path d="M403.0,321.3 V278.889 H411.6 V321.3" fill="none" stroke="#d6dbae" stroke-width="1.8"/>
<path d="M407.3,277.0305 V280.7475 M404.7,277.0305 H409.90000000000003 M404.7,280.7475 H409.90000000000003" stroke="#d6dbae" stroke-width="1.5" fill="none"/>
<path d="M417.0,321.3 V320.307 H425.6 V321.3" fill="none" stroke="#111111" stroke-width="1.8"/>
<rect x="418.6" y="319.207" width="5.4" height="2.2" fill="#111111"/>
<text x="394.90" y="333.60" font-size="12" text-anchor="end" fill="#1a1a1a" transform="rotate(-45 394.90000000000003 333.6)">7D11</text>
<text x="185.60" y="355.30" font-size="11.4" text-anchor="start" fill="#1a1a1a" >Capture antibodies</text>
<rect x="357.15" y="189.39999999999998" width="11.1" height="7.6" fill="none" stroke="#b21f24" stroke-width="1.6"/>
<text x="374.60" y="197.40" font-size="11.9" text-anchor="start" fill="#1a1a1a" >2A7-HRP</text>
<rect x="357.15" y="203.34999999999997" width="11.1" height="7.6" fill="none" stroke="#1e6b24" stroke-width="1.6"/>
<text x="374.60" y="211.35" font-size="11.9" text-anchor="start" fill="#1a1a1a" >5H4-HRP</text>
<rect x="357.15" y="217.29999999999998" width="11.1" height="7.6" fill="none" stroke="#5a5ae6" stroke-width="1.6"/>
<text x="374.60" y="225.30" font-size="11.9" text-anchor="start" fill="#1a1a1a" >6B1-HRP</text>
<rect x="357.15" y="231.24999999999997" width="11.1" height="7.6" fill="none" stroke="#d6dbae" stroke-width="1.6"/>
<text x="374.60" y="239.25" font-size="11.9" text-anchor="start" fill="#1a1a1a" >7A2-HRP</text>
<rect x="357.15" y="245.2" width="11.1" height="7.6" fill="none" stroke="#111111" stroke-width="1.6"/>
<text x="374.60" y="253.20" font-size="11.9" text-anchor="start" fill="#1a1a1a" >7D11-HRP</text>
<text transform="translate(10.0,287.2) rotate(-90)" font-size="11.5" fill="#1a1a1a">OD<tspan font-size="8.3" dy="2.0">450nm</tspan></text>
<path d="M513.8,183.3 V321.5 H746.2" fill="none" stroke="#111" stroke-width="1.7"/>
<line x1="510.19999999999993" y1="321.5" x2="513.8" y2="321.5" stroke="#111" stroke-width="1.6"/>
<text x="508.60" y="326.10" font-size="13" text-anchor="end" fill="#1a1a1a" >0.0</text>
<line x1="510.19999999999993" y1="287.0" x2="513.8" y2="287.0" stroke="#111" stroke-width="1.6"/>
<text x="508.60" y="291.60" font-size="13" text-anchor="end" fill="#1a1a1a" >0.5</text>
<line x1="510.19999999999993" y1="252.5" x2="513.8" y2="252.5" stroke="#111" stroke-width="1.6"/>
<text x="508.60" y="257.10" font-size="13" text-anchor="end" fill="#1a1a1a" >1.0</text>
<line x1="510.19999999999993" y1="218.0" x2="513.8" y2="218.0" stroke="#111" stroke-width="1.6"/>
<text x="508.60" y="222.60" font-size="13" text-anchor="end" fill="#1a1a1a" >1.5</text>
<line x1="510.19999999999993" y1="183.5" x2="513.8" y2="183.5" stroke="#111" stroke-width="1.6"/>
<text x="508.60" y="188.10" font-size="13" text-anchor="end" fill="#1a1a1a" >2.0</text>
<line x1="513.6" y1="321.5" x2="513.6" y2="325.5" stroke="#111" stroke-width="1.6"/>
<text x="513.60" y="339.60" font-size="13" text-anchor="middle" fill="#1a1a1a" >0.1</text>
<line x1="527.58" y1="321.5" x2="527.58" y2="324.0" stroke="#111" stroke-width="1"/>
<line x1="535.76" y1="321.5" x2="535.76" y2="324.0" stroke="#111" stroke-width="1"/>
<line x1="541.57" y1="321.5" x2="541.57" y2="324.0" stroke="#111" stroke-width="1"/>
<line x1="546.07" y1="321.5" x2="546.07" y2="324.0" stroke="#111" stroke-width="1"/>
<line x1="549.75" y1="321.5" x2="549.75" y2="324.0" stroke="#111" stroke-width="1"/>
<line x1="552.85" y1="321.5" x2="552.85" y2="324.0" stroke="#111" stroke-width="1"/>
<line x1="555.55" y1="321.5" x2="555.55" y2="324.0" stroke="#111" stroke-width="1"/>
<line x1="557.92" y1="321.5" x2="557.92" y2="324.0" stroke="#111" stroke-width="1"/>
<line x1="560.0500000000001" y1="321.5" x2="560.0500000000001" y2="325.5" stroke="#111" stroke-width="1.6"/>
<text x="560.05" y="339.60" font-size="13" text-anchor="middle" fill="#1a1a1a" >1</text>
<line x1="574.03" y1="321.5" x2="574.03" y2="324.0" stroke="#111" stroke-width="1"/>
<line x1="582.21" y1="321.5" x2="582.21" y2="324.0" stroke="#111" stroke-width="1"/>
<line x1="588.02" y1="321.5" x2="588.02" y2="324.0" stroke="#111" stroke-width="1"/>
<line x1="592.52" y1="321.5" x2="592.52" y2="324.0" stroke="#111" stroke-width="1"/>
<line x1="596.20" y1="321.5" x2="596.20" y2="324.0" stroke="#111" stroke-width="1"/>
<line x1="599.30" y1="321.5" x2="599.30" y2="324.0" stroke="#111" stroke-width="1"/>
<line x1="602.00" y1="321.5" x2="602.00" y2="324.0" stroke="#111" stroke-width="1"/>
<line x1="604.37" y1="321.5" x2="604.37" y2="324.0" stroke="#111" stroke-width="1"/>
<line x1="606.5" y1="321.5" x2="606.5" y2="325.5" stroke="#111" stroke-width="1.6"/>
<text x="606.50" y="339.60" font-size="13" text-anchor="middle" fill="#1a1a1a" >10</text>
<line x1="620.48" y1="321.5" x2="620.48" y2="324.0" stroke="#111" stroke-width="1"/>
<line x1="628.66" y1="321.5" x2="628.66" y2="324.0" stroke="#111" stroke-width="1"/>
<line x1="634.47" y1="321.5" x2="634.47" y2="324.0" stroke="#111" stroke-width="1"/>
<line x1="638.97" y1="321.5" x2="638.97" y2="324.0" stroke="#111" stroke-width="1"/>
<line x1="642.65" y1="321.5" x2="642.65" y2="324.0" stroke="#111" stroke-width="1"/>
<line x1="645.75" y1="321.5" x2="645.75" y2="324.0" stroke="#111" stroke-width="1"/>
<line x1="648.45" y1="321.5" x2="648.45" y2="324.0" stroke="#111" stroke-width="1"/>
<line x1="650.82" y1="321.5" x2="650.82" y2="324.0" stroke="#111" stroke-width="1"/>
<line x1="652.95" y1="321.5" x2="652.95" y2="325.5" stroke="#111" stroke-width="1.6"/>
<text x="652.95" y="339.60" font-size="13" text-anchor="middle" fill="#1a1a1a" >100</text>
<line x1="666.93" y1="321.5" x2="666.93" y2="324.0" stroke="#111" stroke-width="1"/>
<line x1="675.11" y1="321.5" x2="675.11" y2="324.0" stroke="#111" stroke-width="1"/>
<line x1="680.92" y1="321.5" x2="680.92" y2="324.0" stroke="#111" stroke-width="1"/>
<line x1="685.42" y1="321.5" x2="685.42" y2="324.0" stroke="#111" stroke-width="1"/>
<line x1="689.10" y1="321.5" x2="689.10" y2="324.0" stroke="#111" stroke-width="1"/>
<line x1="692.20" y1="321.5" x2="692.20" y2="324.0" stroke="#111" stroke-width="1"/>
<line x1="694.90" y1="321.5" x2="694.90" y2="324.0" stroke="#111" stroke-width="1"/>
<line x1="697.27" y1="321.5" x2="697.27" y2="324.0" stroke="#111" stroke-width="1"/>
<line x1="699.4000000000001" y1="321.5" x2="699.4000000000001" y2="325.5" stroke="#111" stroke-width="1.6"/>
<text x="699.40" y="339.60" font-size="13" text-anchor="middle" fill="#1a1a1a" >1000</text>
<line x1="713.38" y1="321.5" x2="713.38" y2="324.0" stroke="#111" stroke-width="1"/>
<line x1="721.56" y1="321.5" x2="721.56" y2="324.0" stroke="#111" stroke-width="1"/>
<line x1="727.37" y1="321.5" x2="727.37" y2="324.0" stroke="#111" stroke-width="1"/>
<line x1="731.87" y1="321.5" x2="731.87" y2="324.0" stroke="#111" stroke-width="1"/>
<line x1="735.55" y1="321.5" x2="735.55" y2="324.0" stroke="#111" stroke-width="1"/>
<line x1="738.65" y1="321.5" x2="738.65" y2="324.0" stroke="#111" stroke-width="1"/>
<line x1="741.35" y1="321.5" x2="741.35" y2="324.0" stroke="#111" stroke-width="1"/>
<line x1="743.72" y1="321.5" x2="743.72" y2="324.0" stroke="#111" stroke-width="1"/>
<line x1="745.85" y1="321.5" x2="745.85" y2="325.5" stroke="#111" stroke-width="1.6"/>
<text x="745.85" y="339.60" font-size="13" text-anchor="middle" fill="#1a1a1a" >10000</text>
<text x="532.60" y="354.30" font-size="13.05" text-anchor="start" fill="#1a1a1a" >Concentrations of Fel d 1 (ng/mL)</text>
<text transform="translate(482,269.3) rotate(-90)" font-size="12.3" fill="#1a1a1a">OD<tspan font-size="9" dx="4.0" dy="1.7">450</tspan></text>
<polyline points="560.20,315.10 561.16,315.10 562.11,315.09 563.07,315.08 564.03,315.06 564.98,315.04 565.94,315.01 566.89,314.98 567.85,314.95 568.81,314.91 569.76,314.87 570.72,314.82 571.68,314.77 572.63,314.71 573.59,314.65 574.54,314.59 575.50,314.52 576.46,314.45 577.41,314.37 578.37,314.30 579.33,314.21 580.28,314.13 581.24,314.04 582.19,313.95 583.15,313.85 584.11,313.75 585.06,313.65 586.02,313.54 586.98,313.43 587.93,313.32 588.89,313.21 589.84,313.09 590.80,312.97 591.76,312.85 592.71,312.72 593.67,312.58 594.62,312.39 595.58,312.16 596.54,311.90 597.49,311.60 598.45,311.27 599.41,310.92 600.36,310.55 601.32,310.16 602.28,309.77 603.23,309.37 604.19,308.97 605.14,308.57 606.10,308.18 607.06,307.80 608.01,307.43 608.97,307.07 609.93,306.70 610.88,306.34 611.84,305.97 612.79,305.59 613.75,305.19 614.71,304.78 615.66,304.36 616.62,303.91 617.58,303.43 618.53,302.93 619.49,302.39 620.44,301.82 621.40,301.21 622.36,300.52 623.31,299.77 624.27,298.96 625.23,298.08 626.18,297.15 627.14,296.17 628.09,295.14 629.05,294.06 630.01,292.94 630.96,291.79 631.92,290.59 632.88,289.37 633.83,288.12 634.79,286.84 635.74,285.55 636.70,284.23 637.66,282.90 638.61,281.57 639.57,280.22 640.53,278.81 641.48,277.32 642.44,275.77 643.39,274.16 644.35,272.48 645.31,270.76 646.26,269.00 647.22,267.21 648.18,265.38 649.13,263.54 650.09,261.68 651.04,259.81 652.00,257.94 652.96,256.07 653.91,254.22 654.87,252.35 655.83,250.46 656.78,248.53 657.74,246.57 658.69,244.56 659.65,242.48 660.61,240.34 661.56,238.08 662.52,235.58 663.48,232.92 664.43,230.24 665.39,227.68 666.34,225.37 667.30,223.38 668.26,221.50 669.21,219.72 670.17,218.04 671.12,216.45 672.08,214.96 673.04,213.57 673.99,212.28 674.95,211.03 675.91,209.82 676.86,208.64 677.82,207.51 678.78,206.44 679.73,205.44 680.69,204.52 681.64,203.69 682.60,202.96 683.56,202.34 684.51,201.75 685.47,201.17 686.43,200.61 687.38,200.09 688.34,199.61 689.29,199.20 690.25,198.85 691.21,198.60 692.16,198.44 693.12,198.38 694.08,198.35 695.03,198.32 695.99,198.29 696.94,198.26 697.90,198.24 698.86,198.22 699.81,198.21 700.77,198.20 701.73,198.20 702.68,198.20 703.64,198.20 704.59,198.20 705.55,198.20 706.51,198.20 707.46,198.20 708.42,198.20 709.38,198.20 710.33,198.20 711.29,198.20 712.24,198.20 713.20,198.20" fill="none" stroke="#d9302e" stroke-width="1.7" stroke-linejoin="round"/>
<circle cx="560.05" cy="315.98" r="2.5" fill="#111"/>
<circle cx="592.52" cy="313.56" r="2.5" fill="#111"/>
<circle cx="606.50" cy="307.70" r="2.5" fill="#111"/>
<circle cx="620.48" cy="301.49" r="2.5" fill="#111"/>
<path d="M638.9671567014082,275.27000000000004 V282.17 M636.7671567014081,275.27000000000004 H641.1671567014082 M636.7671567014081,282.17 H641.1671567014082" stroke="#111" stroke-width="1.2" fill="none"/>
<circle cx="638.97" cy="278.72" r="2.5" fill="#111"/>
<path d="M652.95,251.81 V260.09 M650.75,251.81 H655.1500000000001 M650.75,260.09 H655.1500000000001" stroke="#111" stroke-width="1.2" fill="none"/>
<circle cx="652.95" cy="255.95" r="2.5" fill="#111"/>
<path d="M666.9328432985919,223.51999999999998 V235.94 M664.7328432985919,223.51999999999998 H669.132843298592 M664.7328432985919,235.94 H669.132843298592" stroke="#111" stroke-width="1.2" fill="none"/>
<circle cx="666.93" cy="229.73" r="2.5" fill="#111"/>
<path d="M685.4171567014081,202.82000000000002 V209.72 M683.217156701408,202.82000000000002 H687.6171567014081 M683.217156701408,209.72 H687.6171567014081" stroke="#111" stroke-width="1.2" fill="none"/>
<circle cx="685.42" cy="206.27" r="2.5" fill="#111"/>
<path d="M699.4000000000001,199.37 V206.26999999999998 M697.2,199.37 H701.6000000000001 M697.2,206.26999999999998 H701.6000000000001" stroke="#111" stroke-width="1.2" fill="none"/>
<circle cx="699.40" cy="202.82" r="2.5" fill="#111"/>
<path d="M713.382843298592,184.88 V194.54000000000002 M711.1828432985919,184.88 H715.582843298592 M711.1828432985919,194.54000000000002 H715.582843298592" stroke="#111" stroke-width="1.2" fill="none"/>
<circle cx="713.38" cy="189.71" r="2.5" fill="#111"/>
<path d="M55.7,389.3 V533.2 H211.3" fill="none" stroke="#111" stroke-width="2.1"/>
<line x1="51.3" y1="533.0" x2="55.9" y2="533.0" stroke="#111" stroke-width="1.8"/>
<text x="49.50" y="538.50" font-size="15.5" text-anchor="end" fill="#1a1a1a" >0</text>
<line x1="51.3" y1="485.05" x2="55.9" y2="485.05" stroke="#111" stroke-width="1.8"/>
<text x="49.50" y="490.55" font-size="15.5" text-anchor="end" fill="#1a1a1a" >1</text>
<line x1="51.3" y1="437.1" x2="55.9" y2="437.1" stroke="#111" stroke-width="1.8"/>
<text x="49.50" y="442.60" font-size="15.5" text-anchor="end" fill="#1a1a1a" >2</text>
<line x1="51.3" y1="389.15" x2="55.9" y2="389.15" stroke="#111" stroke-width="1.8"/>
<text x="49.50" y="394.65" font-size="15.5" text-anchor="end" fill="#1a1a1a" >3</text>
<line x1="74.5" y1="533" x2="74.5" y2="537.2" stroke="#111" stroke-width="1.8"/>
<path d="M61.7,533 V527.7165 H87.3 V533" fill="none" stroke="#b21f24" stroke-width="1.9"/>
<rect x="68.2" y="525.13825" width="12.6" height="5.156500000000096" fill="#b21f24"/>
<line x1="113.5" y1="533" x2="113.5" y2="537.2" stroke="#111" stroke-width="1.8"/>
<path d="M100.7,533 V418.3905 H126.3 V533" fill="none" stroke="#1e6b24" stroke-width="1.9"/>
<path d="M113.5,411.198 V425.58299999999997 M106.9,411.198 H120.1 M106.9,425.58299999999997 H120.1" stroke="#1e6b24" stroke-width="1.9" fill="none"/>
<line x1="152.2" y1="533" x2="152.2" y2="537.2" stroke="#111" stroke-width="1.8"/>
<path d="M139.39999999999998,533 V527.2370000000001 H165.0 V533" fill="none" stroke="#5a5ae6" stroke-width="1.9"/>
<line x1="190.7" y1="533" x2="190.7" y2="537.2" stroke="#111" stroke-width="1.8"/>
<path d="M177.89999999999998,533 V526.278 H203.5 V533" fill="none" stroke="#d6dbae" stroke-width="1.9"/>
<rect x="184.39999999999998" y="523.9395000000001" width="12.6" height="4.6769999999999525" fill="#d6dbae"/>
<text x="77.10" y="549.50" font-size="15" text-anchor="end" fill="#1a1a1a" transform="rotate(-45 77.1 549.5)">NC</text>
<text x="116.10" y="549.50" font-size="15" text-anchor="end" fill="#1a1a1a" transform="rotate(-45 116.1 549.5)">Fel d 1</text>
<text x="154.80" y="549.50" font-size="15" text-anchor="end" fill="#1a1a1a" transform="rotate(-45 154.79999999999998 549.5)">Fel d 4</text>
<text x="193.30" y="549.50" font-size="15" text-anchor="end" fill="#1a1a1a" transform="rotate(-45 193.29999999999998 549.5)">Fel d 7</text>
<text transform="translate(28.0,488.8) rotate(-90)" font-size="14.8" fill="#1a1a1a">OD<tspan font-size="11.3" dx="4.4" dy="6.0">450nm</tspan></text>
<path d="M327.6,411.2 V532 H479.8" fill="none" stroke="#111" stroke-width="1.8"/>
<line x1="323.3" y1="532.0" x2="327.6" y2="532.0" stroke="#111" stroke-width="1.7"/>
<text x="322.60" y="536.70" font-size="13" text-anchor="end" fill="#1a1a1a" >0</text>
<line x1="323.3" y1="501.8" x2="327.6" y2="501.8" stroke="#111" stroke-width="1.7"/>
<text x="322.60" y="506.50" font-size="13" text-anchor="end" fill="#1a1a1a" >2000</text>
<line x1="323.3" y1="471.6" x2="327.6" y2="471.6" stroke="#111" stroke-width="1.7"/>
<text x="322.60" y="476.30" font-size="13" text-anchor="end" fill="#1a1a1a" >4000</text>
<line x1="323.3" y1="441.4" x2="327.6" y2="441.4" stroke="#111" stroke-width="1.7"/>
<text x="322.60" y="446.10" font-size="13" text-anchor="end" fill="#1a1a1a" >6000</text>
<line x1="323.3" y1="411.2" x2="327.6" y2="411.2" stroke="#111" stroke-width="1.7"/>
<text x="322.60" y="415.90" font-size="13" text-anchor="end" fill="#1a1a1a" >8000</text>
<line x1="327.6" y1="532" x2="327.6" y2="536.3" stroke="#111" stroke-width="1.7"/>
<text x="327.60" y="549.30" font-size="13" text-anchor="middle" fill="#1a1a1a" >0</text>
<line x1="378.6" y1="532" x2="378.6" y2="536.3" stroke="#111" stroke-width="1.7"/>
<text x="378.60" y="549.30" font-size="13" text-anchor="middle" fill="#1a1a1a" >5000</text>
<line x1="429.6" y1="532" x2="429.6" y2="536.3" stroke="#111" stroke-width="1.7"/>
<text x="429.60" y="549.30" font-size="13" text-anchor="middle" fill="#1a1a1a" >10000</text>
<line x1="480.6" y1="532" x2="480.6" y2="536.3" stroke="#111" stroke-width="1.7"/>
<text x="480.60" y="549.30" font-size="13" text-anchor="middle" fill="#1a1a1a" >15000</text>
<text x="323.90" y="565.10" font-size="13.2" text-anchor="start" fill="#1a1a1a" >Commercial ELISA (ng/mL)</text>
<text transform="translate(289.4,539.0) rotate(-90)" font-size="13" fill="#1a1a1a">In-house ELISA (ng/mL)</text>
<text x="336.20" y="399.50" font-size="13" text-anchor="start" fill="#1a1a1a" >Pearson r: 0.9649</text>
<text x="336.0" y="418.5" font-size="13" fill="#1a1a1a"><tspan font-style="italic">p</tspan> &lt; 0.01</text>
<line x1="328.4" y1="524.1" x2="426.1" y2="417.5" stroke="#111" stroke-width="1.9"/>
<circle cx="426.1" cy="422.8" r="1.4" fill="#111"/>
<circle cx="379.5" cy="463.6" r="1.4" fill="#111"/>
<circle cx="364.4" cy="470.3" r="1.4" fill="#111"/>
<circle cx="373.3" cy="482.8" r="1.4" fill="#111"/>
<circle cx="348.4" cy="492.2" r="1.4" fill="#111"/>
<circle cx="347.9" cy="495.8" r="1.4" fill="#111"/>
<circle cx="358.2" cy="499.4" r="1.4" fill="#111"/>
<circle cx="342.3" cy="503.5" r="1.4" fill="#111"/>
<circle cx="350.5" cy="499.9" r="1.4" fill="#111"/>
<circle cx="348.4" cy="513" r="1.4" fill="#111"/>
<circle cx="337.1" cy="515.4" r="1.4" fill="#111"/>
<circle cx="330.4" cy="526.7" r="1.4" fill="#111"/>
<circle cx="331" cy="527.7" r="1.4" fill="#111"/>
<circle cx="328.4" cy="530.3" r="1.4" fill="#111"/>
<path d="M600,411.2 V532.2 H751.2" fill="none" stroke="#111" stroke-width="1.8"/>
<line x1="595.7" y1="532.2" x2="600" y2="532.2" stroke="#111" stroke-width="1.7"/>
<text x="595.00" y="536.90" font-size="13" text-anchor="end" fill="#1a1a1a" >0</text>
<line x1="595.7" y1="501.95000000000005" x2="600" y2="501.95000000000005" stroke="#111" stroke-width="1.7"/>
<text x="595.00" y="506.65" font-size="13" text-anchor="end" fill="#1a1a1a" >20</text>
<line x1="595.7" y1="471.70000000000005" x2="600" y2="471.70000000000005" stroke="#111" stroke-width="1.7"/>
<text x="595.00" y="476.40" font-size="13" text-anchor="end" fill="#1a1a1a" >40</text>
<line x1="595.7" y1="441.45000000000005" x2="600" y2="441.45000000000005" stroke="#111" stroke-width="1.7"/>
<text x="595.00" y="446.15" font-size="13" text-anchor="end" fill="#1a1a1a" >60</text>
<line x1="595.7" y1="411.20000000000005" x2="600" y2="411.20000000000005" stroke="#111" stroke-width="1.7"/>
<text x="595.00" y="415.90" font-size="13" text-anchor="end" fill="#1a1a1a" >80</text>
<line x1="600.0" y1="532.2" x2="600.0" y2="536.5" stroke="#111" stroke-width="1.7"/>
<text x="600.00" y="549.00" font-size="13" text-anchor="middle" fill="#1a1a1a" >0</text>
<line x1="630.24" y1="532.2" x2="630.24" y2="536.5" stroke="#111" stroke-width="1.7"/>
<text x="630.24" y="549.00" font-size="13" text-anchor="middle" fill="#1a1a1a" >20</text>
<line x1="660.48" y1="532.2" x2="660.48" y2="536.5" stroke="#111" stroke-width="1.7"/>
<text x="660.48" y="549.00" font-size="13" text-anchor="middle" fill="#1a1a1a" >40</text>
<line x1="690.72" y1="532.2" x2="690.72" y2="536.5" stroke="#111" stroke-width="1.7"/>
<text x="690.72" y="549.00" font-size="13" text-anchor="middle" fill="#1a1a1a" >60</text>
<line x1="720.96" y1="532.2" x2="720.96" y2="536.5" stroke="#111" stroke-width="1.7"/>
<text x="720.96" y="549.00" font-size="13" text-anchor="middle" fill="#1a1a1a" >80</text>
<line x1="751.2" y1="532.2" x2="751.2" y2="536.5" stroke="#111" stroke-width="1.7"/>
<text x="751.20" y="549.00" font-size="13" text-anchor="middle" fill="#1a1a1a" >100</text>
<text x="601.00" y="565.30" font-size="13.2" text-anchor="start" fill="#1a1a1a" >Commercial ELISA (µg/g)</text>
<text transform="translate(572.4,534.4) rotate(-90)" font-size="13" fill="#1a1a1a">In-house ELISA (µg/g)</text>
<text x="608.10" y="399.70" font-size="13" text-anchor="start" fill="#1a1a1a" >Pearson r: 0.9519</text>
<text x="608.4" y="418.5" font-size="13" fill="#1a1a1a"><tspan font-style="italic">p</tspan> &lt; 0.01</text>
<line x1="608.2" y1="516" x2="730.2" y2="420.9" stroke="#111" stroke-width="1.9"/>
<circle cx="730.2" cy="432.4" r="1.4" fill="#111"/>
<circle cx="706.6" cy="433.1" r="1.4" fill="#111"/>
<circle cx="715" cy="444.4" r="1.4" fill="#111"/>
<circle cx="659.3" cy="458.3" r="1.4" fill="#111"/>
<circle cx="674.2" cy="455.9" r="1.4" fill="#111"/>
<circle cx="680.2" cy="455.9" r="1.4" fill="#111"/>
<circle cx="653.3" cy="471.3" r="1.4" fill="#111"/>
<circle cx="642.3" cy="477.3" r="1.4" fill="#111"/>
<circle cx="647.8" cy="477.3" r="1.4" fill="#111"/>
<circle cx="639.4" cy="490" r="1.4" fill="#111"/>
<circle cx="646.1" cy="496.5" r="1.4" fill="#111"/>
<circle cx="630.3" cy="500.8" r="1.4" fill="#111"/>
<circle cx="611.8" cy="518.4" r="1.4" fill="#111"/>
<circle cx="610.1" cy="522.4" r="1.4" fill="#111"/>
<circle cx="607.5" cy="525.3" r="1.4" fill="#111"/>
</svg></body></html>
